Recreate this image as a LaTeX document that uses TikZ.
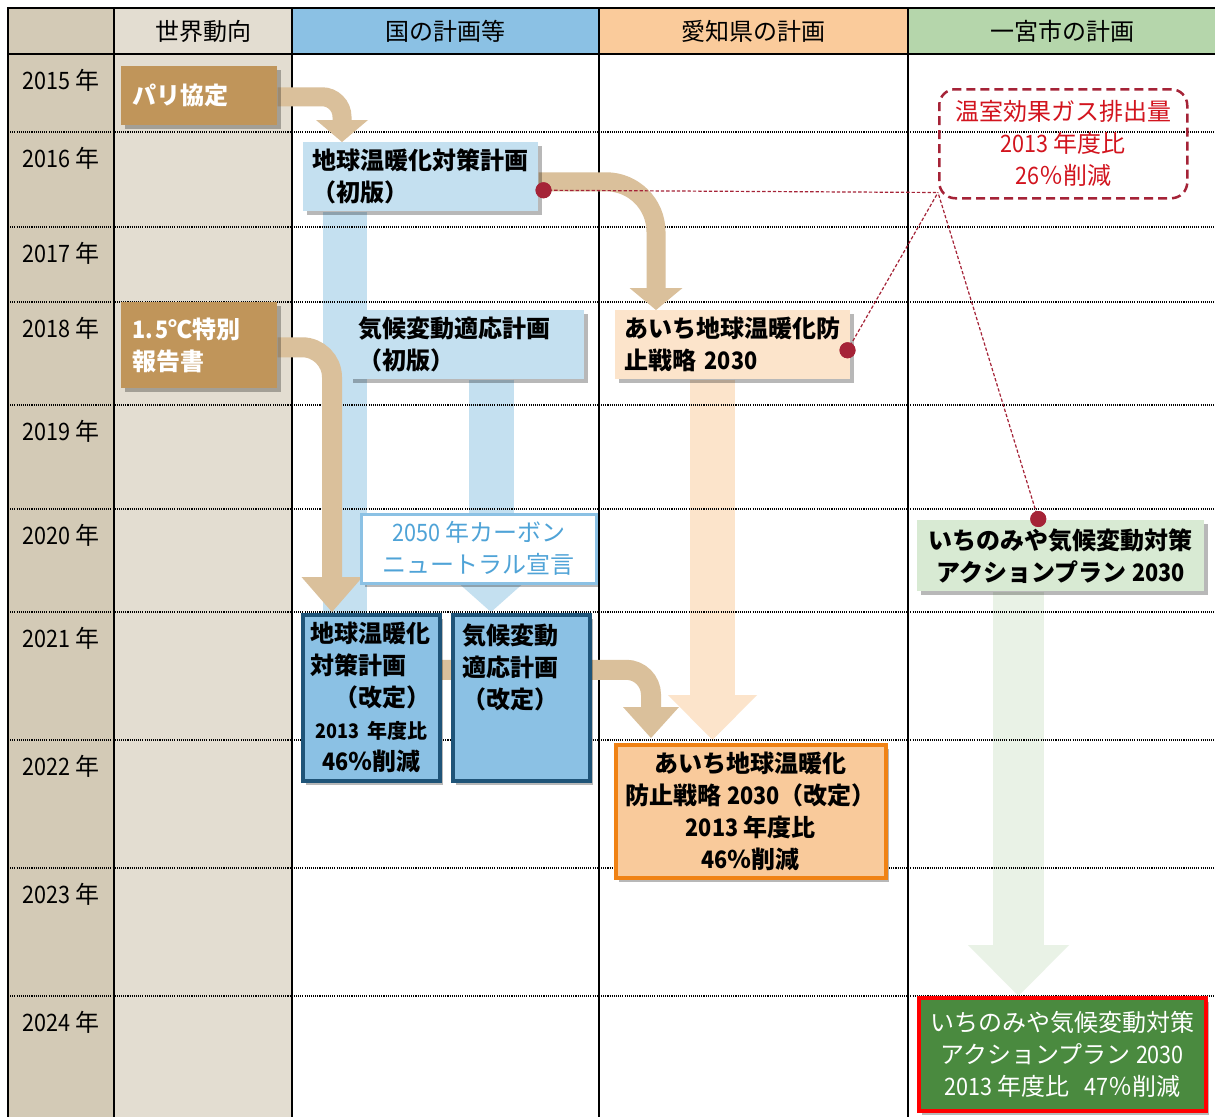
\documentclass[tikz,border=0pt]{standalone}
\usepackage{fontspec}
\setmainfont{Noto Sans CJK JP}
\newfontfamily\nar[FakeStretch=0.9]{Noto Sans CJK JP}
\usetikzlibrary{arrows.meta,calc,shadows}
\newdimen\pxu \pxu=0.75pt
\definecolor{yearcol}{RGB}{211,202,182}
\definecolor{worldcol}{RGB}{227,221,209}
\definecolor{bluehdr}{RGB}{139,193,228}
\definecolor{orangehdr}{RGB}{250,203,155}
\definecolor{greenhdr}{RGB}{181,214,171}
\definecolor{brownbox}{RGB}{192,149,90}
\definecolor{brownarrow}{RGB}{218,192,155}
\definecolor{paleblue}{RGB}{196,224,240}
\definecolor{darkblue}{RGB}{31,84,120}
\definecolor{paleorange}{RGB}{252,228,203}
\definecolor{orangebox}{RGB}{249,202,155}
\definecolor{orangeline}{RGB}{240,130,20}
\definecolor{palegreen}{RGB}{216,234,211}
\definecolor{greenarrow}{RGB}{233,242,230}
\definecolor{darkgreen}{RGB}{74,138,63}
\definecolor{reddash}{RGB}{165,35,55}
\definecolor{redtext}{RGB}{210,20,30}
\definecolor{bluetext}{RGB}{79,163,215}
\pgfdeclarelayer{back}
\pgfdeclarelayer{pale}
\pgfdeclarelayer{grid}
\pgfdeclarelayer{mid}
\pgfdeclarelayer{front}
\pgfsetlayers{back,pale,grid,mid,main,front}
\begin{document}
\begin{tikzpicture}[x=0.75pt,y=-0.75pt,
  every node/.style={inner sep=0pt},
  box/.style={rectangle, anchor=north west, inner ysep=0pt,
    font=\fontsize{18}{24}\selectfont\bfseries,
    drop shadow={shadow xshift=2.5pt,shadow yshift=-3pt,fill=black,opacity=0.28}},
  lbox/.style={box, align=left},
  cbox/.style={box, align=center},
  hdr/.style={font=\fontsize{18}{24}\selectfont},
  yr/.style={font=\fontsize{18}{24}\selectfont},
  rowline/.style={black, line width=0.8pt, dash pattern=on 0.8pt off 0.8pt},
  colline/.style={black, line width=1.6pt},
  brownarr/.style={draw=brownarrow, line cap=butt, rounded corners=#1},
  palearr/.style={draw=#1, line cap=butt},
  reddot/.style={circle, fill=reddash, minimum size=16\pxu},
  redline/.style={draw=reddash, line width=0.9pt, dash pattern=on 2.5pt off 1.5pt}
]
\useasboundingbox (0,0) rectangle (1215,1117);

% ---------- backgrounds ----------
\begin{pgfonlayer}{back}
\fill[white] (0,0) rectangle (1215,1117);
\fill[yearcol] (8,8) rectangle (114,1117);
\fill[worldcol] (114,8) rectangle (292,1117);
\fill[bluehdr] (292,8) rectangle (599,54);
\fill[orangehdr] (599,8) rectangle (908,54);
\fill[greenhdr] (908,8) rectangle (1215,54);
\end{pgfonlayer}

% ---------- grid ----------
\begin{pgfonlayer}{grid}
\foreach \yy in {132,227,302,405,509,612,740,868,996}
  \draw[rowline] (8,\yy) -- (1215,\yy);
\draw[black, line width=1.9pt] (7,8) -- (1215,8);
\draw[black, line width=1.9pt] (7,54) -- (1215,54);
\foreach \xx in {8,114,292,599,908}
  \draw[colline] (\xx,8) -- (\xx,1117);
\end{pgfonlayer}

% ---------- headers ----------
\node[hdr] (h1) at (203,31) {世界動向};
\node[hdr] (h2) at (445,31) {国の計画等};
\node[hdr] (h3) at (753,31) {愛知県の計画};
\node[hdr] (h4) at (1062,31) {一宮市の計画};

% ---------- years ----------
\node[yr] (y15) at (61,80) {{\nar 2015} 年};
\node[yr] (y16) at (61,158) {{\nar 2016} 年};
\node[yr] (y17) at (61,253) {{\nar 2017} 年};
\node[yr] (y18) at (61,328) {{\nar 2018} 年};
\node[yr] (y19) at (61,431) {{\nar 2019} 年};
\node[yr] (y20) at (61,535) {{\nar 2020} 年};
\node[yr] (y21) at (61,638) {{\nar 2021} 年};
\node[yr] (y22) at (61,766) {{\nar 2022} 年};
\node[yr] (y23) at (61,894) {{\nar 2023} 年};
\node[yr] (y24) at (61,1022) {{\nar 2024} 年};

% ---------- boxes ----------
\node[lbox, fill=brownbox, text=white, minimum width=156\pxu, minimum height=59\pxu,
  inner xsep=11\pxu, text width=134\pxu] (paris) at (121,66) {パリ協定};
\node[lbox, fill=brownbox, text=white, minimum width=156\pxu, minimum height=86\pxu,
  inner xsep=11\pxu, text width=134\pxu] (ipcc) at (121,302) {{\nar 1.\kern2pt 5}℃特別\\報告書};

\node[lbox, fill=paleblue, minimum width=235\pxu, minimum height=69\pxu,
  inner xsep=9\pxu, text width=217\pxu] (chk1) at (303,142) {地球温暖化対策計画\\（初版）};
\node[lbox, fill=paleblue, minimum width=235\pxu, minimum height=69\pxu,
  inner xsep=9\pxu, text width=217\pxu] (kik1) at (349,310) {気候変動適応計画\\（初版）};
\node[cbox, fill=white, draw=bluehdr, line width=2.5\pxu, text=bluetext,
  font=\fontsize{18}{24}\selectfont, minimum width=235\pxu, minimum height=69\pxu]
  (cn) at (360,513) {{\nar 2050} 年カーボン\\ニュートラル宣言};

\node[lbox, fill=bluehdr, draw=darkblue, line width=3.5\pxu, minimum width=137\pxu,
  minimum height=166\pxu, inner xsep=8\pxu, text width=121\pxu] (chk2) at (301,613)
  {地球温暖化\\対策計画\\\hspace*{1em}（改定）\\
   \makebox[121\pxu]{\fontsize{15}{24}\selectfont{\nar 2013} 年度比}\\
   \makebox[121\pxu]{{\nar 46}％削減}};
\node[lbox, fill=bluehdr, draw=darkblue, line width=3.5\pxu, minimum width=137\pxu,
  minimum height=166\pxu, inner xsep=10\pxu, text width=117\pxu] (chk3) at (451,613)
  {気候変動\\適応計画\\（改定）\\\mbox{}\\\mbox{}};

\node[lbox, fill=paleorange, minimum width=235\pxu, minimum height=69\pxu,
  inner xsep=9.5\pxu, text width=216\pxu] (aichi1) at (615,310)
  {あいち地球温暖化防\\止戦略 {\nar 2030}};
\node[cbox, fill=orangebox, draw=orangeline, line width=3.5\pxu, minimum width=270\pxu,
  minimum height=133\pxu] (aichi2) at (614,743)
  {あいち地球温暖化\\防止戦略 {\nar 2030}（改定）\\{\nar 2013} 年度比\\{\nar 46}％削減};

\node[anchor=north west, draw=reddash, line width=2.5\pxu, dash pattern=on 9\pxu off 5\pxu,
  rounded corners=16\pxu, minimum width=248\pxu, minimum height=109\pxu, align=center,
  text=redtext, font=\fontsize{18}{24}\selectfont] (redbox) at (938,88)
  {温室効果ガス排出量\\{\nar 2013} 年度比\\{\nar 26}％削減};

\node[cbox, fill=palegreen, minimum width=287\pxu, minimum height=71\pxu] (ichi1) at (917,520)
  {いちのみや気候変動対策\\アクションプラン {\nar 2030}};
\node[cbox, fill=darkgreen, draw=red, line width=3.5\pxu, text=white,
  font=\fontsize{18}{24}\selectfont, minimum width=287\pxu, minimum height=113\pxu]
  (ichi2) at (917,996)
  {いちのみや気候変動対策\\アクションプラン {\nar 2030}\\{\nar 2013} 年度比\hspace{0.6em}{\nar 47}％削減};

% ---------- pale connectors ----------
\begin{pgfonlayer}{pale}
\draw[palearr=paleblue, line width=44\pxu]
  ($(chk1.south west)+(42,0)$) -- ($(chk2.north west)+(44,0)$);
\draw[palearr=paleblue, line width=45\pxu, -{Triangle[length=30pt,width=67.5pt,line width=0pt]}]
  ($(kik1.south west)+(142,0)$) -- ($(chk3.north west)+(40,-1)$);
\draw[palearr=paleorange, line width=45\pxu, -{Triangle[length=33.75pt,width=66.75pt,line width=0pt]}]
  ($(aichi1.south west)+(97.5,0)$) -- ($(aichi2.north west)+(98.5,-3)$);
\draw[palearr=greenarrow, line width=51\pxu, -{Triangle[length=38.25pt,width=75.75pt,line width=0pt]}]
  ($(ichi1.south west)+(101.5,0)$) -- ($(ichi2.north west)+(101.5,0)$);
\end{pgfonlayer}

% ---------- brown connectors ----------
\begin{pgfonlayer}{mid}
\draw[brownarr=20\pxu, line width=19\pxu, -{Triangle[length=16.5pt,width=39pt,line width=0pt]}]
  ($(paris.east)+(0,1)$) -| ($(chk1.north west)+(39,0)$);
\draw[brownarr=50\pxu, line width=19\pxu, -{Triangle[length=16.5pt,width=39.75pt,line width=0pt]}]
  ($(chk1.east)+(0,5)$) -| ($(aichi1.north west)+(41,0)$);
\draw[brownarr=30\pxu, line width=20\pxu, -{Triangle[length=26.25pt,width=45.75pt,line width=0pt]}]
  ($(ipcc.east)+(0,2)$) -| ($(chk2.north west)+(31,-1)$);
\draw[brownarr=25\pxu, line width=20\pxu, -{Triangle[length=23.25pt,width=42pt,line width=0pt]}]
  ($(chk2.east)+(0,-28)$) -| ($(aichi2.north west)+(37,-5)$);
\end{pgfonlayer}

% ---------- red dashed connectors ----------
\begin{pgfonlayer}{front}
\coordinate (rc) at ($(redbox.south west)+(0,-7)$);
\node[reddot] (dot1) at ($(chk1.east)+(5,13.5)$) {};
\node[reddot] (dot2) at ($(aichi1.east)+(-3,5.5)$) {};
\node[reddot] (dot3) at ($(ichi1.north)+(-22.5,-1)$) {};
\draw[redline] (dot1.center) -- (rc);
\draw[redline] (dot2.center) -- (rc);
\draw[redline] (dot3.center) -- (rc);
\fill[reddash] (dot1) circle (8\pxu);
\fill[reddash] (dot2) circle (8\pxu);
\fill[reddash] (dot3) circle (8\pxu);
\end{pgfonlayer}
\end{tikzpicture}
\end{document}
